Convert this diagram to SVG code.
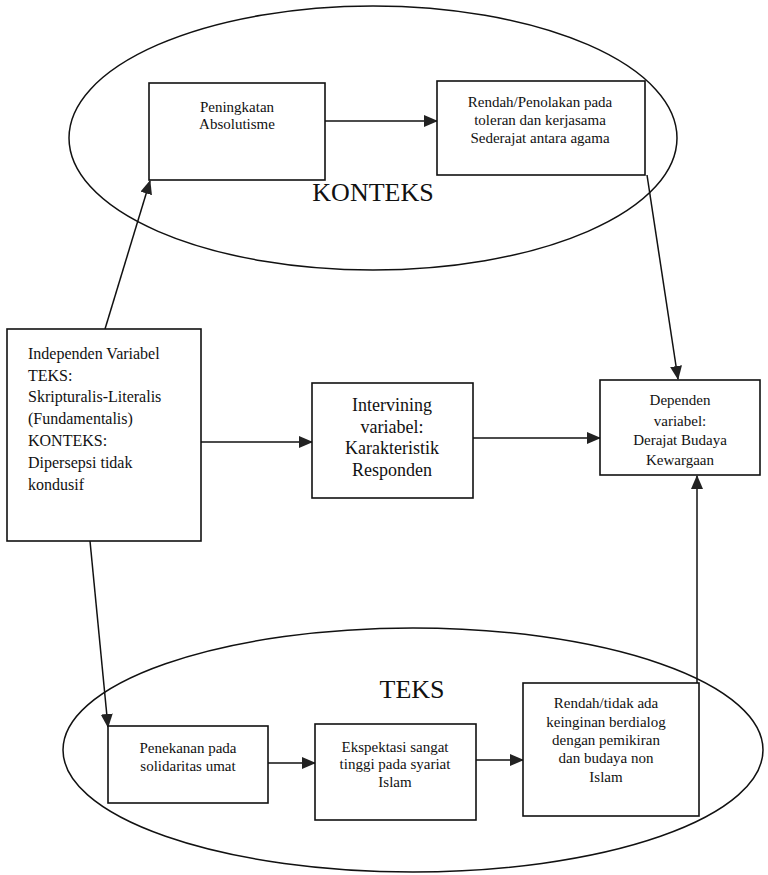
<svg xmlns="http://www.w3.org/2000/svg" width="768" height="875" viewBox="0 0 768 875">
<style>
.box{fill:#fff;stroke:#111;stroke-width:1.6}
.ell{fill:none;stroke:#111;stroke-width:1.5}
.ln{fill:none;stroke:#111;stroke-width:1.5}
text{font-family:"Liberation Serif","Times New Roman",serif;fill:#111}
.t15{font-size:15px;text-anchor:middle}
.t16{font-size:16px}
.t18{font-size:18px;text-anchor:middle}
.big{font-size:26px;text-anchor:middle}
</style>
<defs>
<marker id="ah" markerUnits="userSpaceOnUse" markerWidth="14" markerHeight="12" refX="13" refY="6" orient="auto">
<path d="M0,0 L14,6 L0,12 z" fill="#222"/>
</marker>
</defs>
<rect width="768" height="875" fill="#fff"/>
<g id="konteks-area">
<ellipse class="ell" cx="373" cy="138" rx="304" ry="132"/>
<text class="big" x="373" y="201">KONTEKS</text>
</g>
<g id="teks-area">
<ellipse class="ell" cx="413" cy="750" rx="350" ry="122"/>
<text class="big" x="412" y="698">TEKS</text>
</g>
<g id="connectors">
<line class="ln" x1="325" y1="121" x2="437" y2="121" marker-end="url(#ah)"/>
<line class="ln" x1="647" y1="175" x2="678" y2="379" marker-end="url(#ah)"/>
<line class="ln" x1="105" y1="329" x2="150" y2="181" marker-end="url(#ah)"/>
<line class="ln" x1="201" y1="442" x2="312" y2="442" marker-end="url(#ah)"/>
<line class="ln" x1="473" y1="438" x2="600" y2="438" marker-end="url(#ah)"/>
<line class="ln" x1="90" y1="541" x2="108" y2="727" marker-end="url(#ah)"/>
<line class="ln" x1="268" y1="763" x2="315" y2="763" marker-end="url(#ah)"/>
<line class="ln" x1="476" y1="760" x2="523" y2="760" marker-end="url(#ah)"/>
<line class="ln" x1="697" y1="683" x2="697" y2="476" marker-end="url(#ah)"/>
</g>
<g id="peningkatan">
<rect class="box" x="149" y="83" width="176" height="97"/>
<text class="t15" x="237" y="112">Peningkatan</text>
<text class="t15" x="237" y="129">Absolutisme</text>
</g>
<g id="rendah-penolakan">
<rect class="box" x="437" y="81" width="208" height="94"/>
<text class="t15" x="540" y="107">Rendah/Penolakan pada</text>
<text class="t15" x="540" y="125">toleran dan kerjasama</text>
<text class="t15" x="540" y="143">Sederajat antara agama</text>
</g>
<g id="independen">
<rect class="box" x="7" y="329" width="194" height="212"/>
<text class="t16" x="28" y="359">Independen Variabel</text>
<text class="t16" x="28" y="381">TEKS:</text>
<text class="t16" x="28" y="402">Skripturalis-Literalis</text>
<text class="t16" x="28" y="424">(Fundamentalis)</text>
<text class="t16" x="28" y="446">KONTEKS:</text>
<text class="t16" x="28" y="468">Dipersepsi tidak</text>
<text class="t16" x="28" y="490">kondusif</text>
</g>
<g id="intervining">
<rect class="box" x="312" y="383" width="161" height="115"/>
<text class="t18" x="392" y="411">Intervining</text>
<text class="t18" x="392" y="433">variabel:</text>
<text class="t18" x="392" y="454">Karakteristik</text>
<text class="t18" x="392" y="476">Responden</text>
</g>
<g id="dependen">
<rect class="box" x="600" y="380" width="160" height="95"/>
<text class="t15" x="680" y="405">Dependen</text>
<text class="t15" x="680" y="426">variabel:</text>
<text class="t15" x="680" y="445">Derajat Budaya</text>
<text class="t15" x="680" y="465">Kewargaan</text>
</g>
<g id="penekanan">
<rect class="box" x="108" y="726" width="160" height="77"/>
<text class="t15" x="188" y="753">Penekanan pada</text>
<text class="t15" x="188" y="771">solidaritas umat</text>
</g>
<g id="ekspektasi">
<rect class="box" x="315" y="724" width="161" height="96"/>
<text class="t15" x="395" y="752">Ekspektasi sangat</text>
<text class="t15" x="395" y="769">tinggi pada syariat</text>
<text class="t15" x="395" y="787">Islam</text>
</g>
<g id="rendah-tidak">
<rect class="box" x="523" y="683" width="176" height="133"/>
<text class="t15" x="606" y="708">Rendah/tidak ada</text>
<text class="t15" x="606" y="727">keinginan berdialog</text>
<text class="t15" x="606" y="745">dengan pemikiran</text>
<text class="t15" x="606" y="763">dan budaya non</text>
<text class="t15" x="606" y="782">Islam</text>
</g>
</svg>
